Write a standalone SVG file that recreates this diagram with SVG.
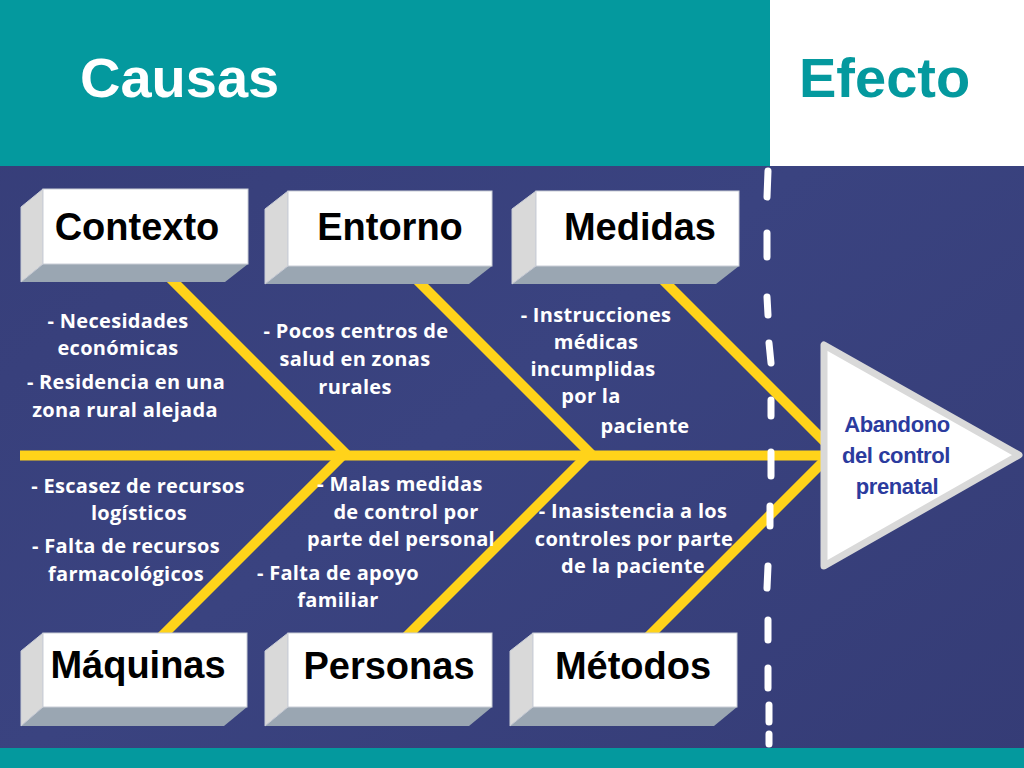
<svg xmlns="http://www.w3.org/2000/svg" width="1024" height="768" viewBox="0 0 1024 768">
  <defs>
    <linearGradient id="bg" x1="0" y1="0" x2="1" y2="1">
      <stop offset="0" stop-color="#363d78"/>
      <stop offset="0.5" stop-color="#3a4380"/>
      <stop offset="1" stop-color="#353c76"/>
    </linearGradient>
    <style>
      .bone { stroke: #ffd31a; stroke-width: 10; fill: none; stroke-linecap: butt; }
      .dash { stroke: #ffffff; stroke-width: 7; stroke-linecap: round; fill: none; }
      .front { fill: #ffffff; stroke: #c9cdd6; stroke-width: 1; }
      .side { fill: #d9d9d9; stroke: #c9cdd6; stroke-width: 1; }
      .bottom { fill: #9aa6b2; }
      .lbl { font-family: "Liberation Sans", Arial, sans-serif; font-weight: 700; font-size: 38px; fill: #000000; text-anchor: middle; }
      .cause { font-family: "Open Sans", "Liberation Sans", sans-serif; font-weight: 700; font-size: 20px; letter-spacing: 0.3px; fill: #ffffff; text-anchor: middle; }
      .title { font-family: "Liberation Sans", Arial, sans-serif; font-weight: 700; font-size: 56px; }
      .effect { font-family: "Liberation Sans", Arial, sans-serif; font-weight: 700; font-size: 22px; fill: #2b3b9e; text-anchor: middle; letter-spacing: -0.4px; }
    </style>
  </defs>

  <!-- background -->
  <rect x="0" y="0" width="1024" height="768" fill="url(#bg)"/>
  <rect x="0" y="0" width="770" height="166" fill="#04999e"/>
  <rect x="770" y="0" width="254" height="166" fill="#ffffff"/>
  <rect x="0" y="748" width="1024" height="20" fill="#04999e"/>
  <text class="title" x="80" y="97" fill="#ffffff">Causas</text>
  <text class="title" x="799" y="97" fill="#04999e">Efecto</text>

  <!-- connectors -->
  <g id="connectors">
    <line class="bone" x1="20" y1="455.5" x2="830" y2="455.5"/>
    <line class="bone" x1="167" y1="275" x2="347" y2="455"/>
    <line class="bone" x1="412" y1="275" x2="592" y2="455"/>
    <line class="bone" x1="658" y1="275" x2="830" y2="447"/>
    <line class="bone" x1="158" y1="640" x2="343" y2="455"/>
    <line class="bone" x1="403" y1="640" x2="588" y2="455"/>
    <line class="bone" x1="645" y1="640" x2="830" y2="455"/>
  </g>

  <!-- dashed divider -->
  <g id="divider">
    <path class="dash" d="M768,171 L767,197 M767,233 L767,257 M767,297 L768,315 M769,343 L771,363 M771,400 L771,416 M771,452 L771,476 M770,506 L770,526 M768,566 L767,588 M768,620 L768,640 M768,668 L768,688 M769,705 L769,722 M769,734 L769,744"/>
  </g>

  <!-- effect -->
  <g id="effect">
    <polygon points="824,345 824,566 1019,455" fill="#ffffff" stroke="#d9d9d9" stroke-width="7" stroke-linejoin="round"/>
    <text class="effect" x="897" y="432">Abandono</text>
    <text class="effect" x="896" y="463">del control</text>
    <text class="effect" x="897" y="494">prenatal</text>
  </g>

  <!-- category boxes -->
  <g id="contexto">
    <polygon class="bottom" points="21,282 43,264 248,264 225,282"/>
    <polygon class="side" points="21,207 43,189 43,264 21,282"/>
    <rect class="front" x="43" y="189" width="205" height="75"/>
    <text class="lbl" x="137" y="240">Contexto</text>
  </g>
  <g id="entorno">
    <polygon class="bottom" points="265,284 288,266 492,266 469,284"/>
    <polygon class="side" points="265,209 288,191 288,266 265,284"/>
    <rect class="front" x="288" y="191" width="204" height="75"/>
    <text class="lbl" x="390" y="240">Entorno</text>
  </g>
  <g id="medidas">
    <polygon class="bottom" points="512,284 536,266 739,266 716,284"/>
    <polygon class="side" points="512,209 536,191 536,266 512,284"/>
    <rect class="front" x="536" y="191" width="203" height="75"/>
    <text class="lbl" x="640" y="240">Medidas</text>
  </g>
  <g id="maquinas">
    <polygon class="bottom" points="21,726 43,707 247,707 224,726"/>
    <polygon class="side" points="21,651 43,633 43,707 21,726"/>
    <rect class="front" x="43" y="633" width="204" height="74"/>
    <text class="lbl" x="138" y="678">Máquinas</text>
  </g>
  <g id="personas">
    <polygon class="bottom" points="265,726 288,707 492,707 469,726"/>
    <polygon class="side" points="265,651 288,633 288,707 265,726"/>
    <rect class="front" x="288" y="633" width="204" height="74"/>
    <text class="lbl" x="389" y="679">Personas</text>
  </g>
  <g id="metodos">
    <polygon class="bottom" points="510,726 533,707 737,707 714,726"/>
    <polygon class="side" points="510,651 533,633 533,707 510,726"/>
    <rect class="front" x="533" y="633" width="204" height="74"/>
    <text class="lbl" x="633" y="679">Métodos</text>
  </g>

  <!-- cause texts -->
  <g id="causes-contexto">
    <text class="cause" x="118" y="328">- Necesidades</text>
    <text class="cause" x="118" y="355">económicas</text>
    <text class="cause" x="126" y="389">- Residencia en una</text>
    <text class="cause" x="125" y="417">zona rural alejada</text>
  </g>
  <g id="causes-entorno">
    <text class="cause" x="356" y="338">- Pocos centros de</text>
    <text class="cause" x="355" y="366">salud en zonas</text>
    <text class="cause" x="355" y="394">rurales</text>
  </g>
  <g id="causes-medidas">
    <text class="cause" x="596" y="322">- Instrucciones</text>
    <text class="cause" x="596" y="349">médicas</text>
    <text class="cause" x="593" y="376">incumplidas</text>
    <text class="cause" x="591" y="403">por la</text>
    <text class="cause" x="645" y="433">paciente</text>
  </g>
  <g id="causes-maquinas">
    <text class="cause" x="138" y="493">- Escasez de recursos</text>
    <text class="cause" x="139" y="520">logísticos</text>
    <text class="cause" x="126" y="553">- Falta de recursos</text>
    <text class="cause" x="126" y="581">farmacológicos</text>
  </g>
  <g id="causes-personas">
    <text class="cause" x="400" y="491">- Malas medidas</text>
    <text class="cause" x="406" y="519">de control por</text>
    <text class="cause" x="401" y="546">parte del personal</text>
    <text class="cause" x="338" y="580">- Falta de apoyo</text>
    <text class="cause" x="338" y="607">familiar</text>
  </g>
  <g id="causes-metodos">
    <text class="cause" x="633" y="518">- Inasistencia a los</text>
    <text class="cause" x="634" y="546">controles por parte</text>
    <text class="cause" x="633" y="573">de la paciente</text>
  </g>
</svg>
